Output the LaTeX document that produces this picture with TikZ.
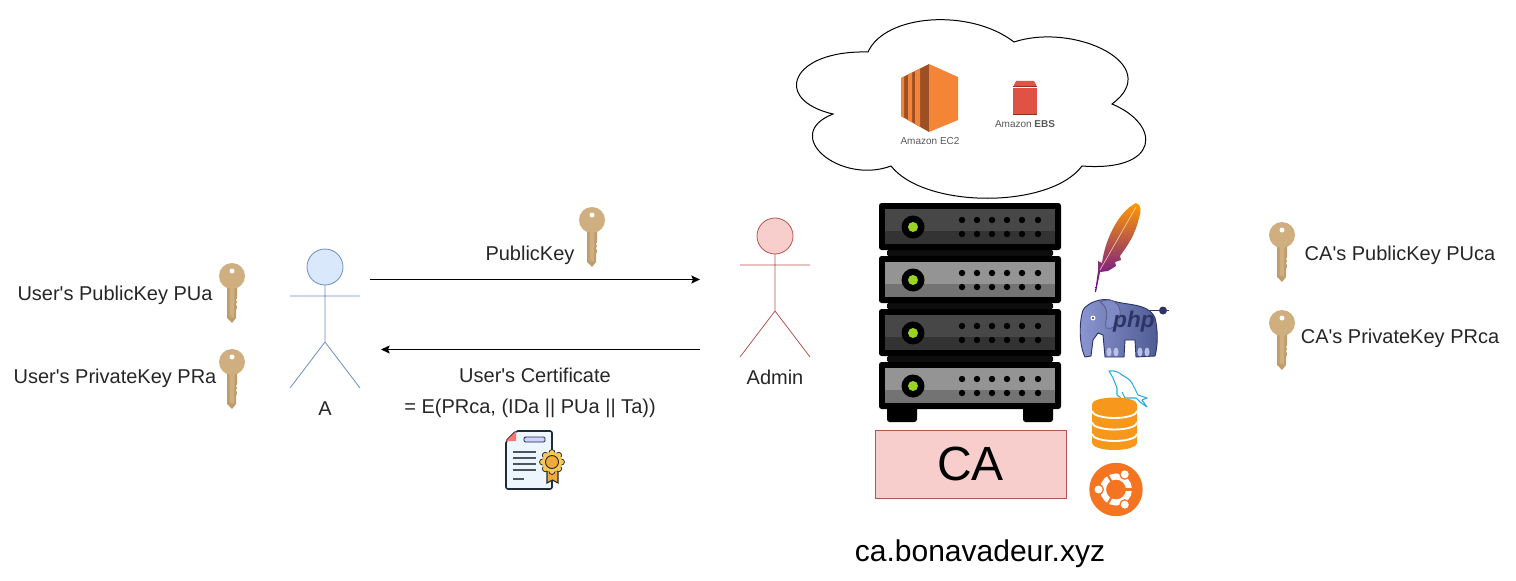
\documentclass[tikz,border=0pt]{standalone}
\usepackage{fontspec}
\setmainfont{Liberation Sans}
\usepackage{xcolor}
\usetikzlibrary{arrows.meta, positioning, calc}
\definecolor{keytan}{HTML}{CFAE80}
\definecolor{keydark}{HTML}{BE9C6C}
\definecolor{userblue}{HTML}{DAE8FC}
\definecolor{userline}{HTML}{6C8EBF}
\definecolor{adminred}{HTML}{F8CECC}
\definecolor{adminline}{HTML}{B85450}
\definecolor{ecorange}{HTML}{F58536}
\definecolor{ecdark}{HTML}{9D5025}
\definecolor{ebsred}{HTML}{E05243}
\definecolor{ebsdark}{HTML}{8C3123}
\definecolor{dbcolor}{HTML}{F7981D}
\definecolor{ubuntucolor}{HTML}{F47421}
\definecolor{phplight}{HTML}{8C97D2}
\definecolor{phpblue}{HTML}{7F8BC6}
\definecolor{phpmid}{HTML}{4F5B93}
\definecolor{phpdark}{HTML}{2E3566}
\definecolor{dolphin}{HTML}{29ABE2}
\definecolor{certline}{HTML}{1D2B3A}
\definecolor{certpaper}{HTML}{EEF6FD}
\definecolor{sealgold}{HTML}{F9C850}
\definecolor{sealmid}{HTML}{F2A93B}
\definecolor{ledgreen}{HTML}{9BD41E}
\tikzset{
    caption/.style={
        font=\fontsize{15}{17}\selectfont,
        text=black!85,
        text height=11pt,
        text depth=3pt,
        inner sep=0pt,
        yshift=-1.4pt
    },
    awslabel/.style={
        font=\fontsize{7.5}{8}\selectfont,
        text=black!65,
        inner sep=0pt
    },
    wire/.style={
        draw=black,
        line width=0.8pt,
        -{Stealth[length=6.5pt,width=6pt,inset=1.2pt]}
    },
    keyicon/.pic={
        \fill[keydark] (-5,8) -- (5,8) -- (5,22) -- (4,24) -- (5,26) -- (4,28) -- (5,31) -- (4,35) -- (4,42) -- (0,47) -- (-5,42) -- cycle;
        \fill[keytan] (-2.5,10) -- (2.5,10) -- (2,42) -- (-2.5,40) -- cycle;
        \fill[keytan] (0,0) circle (13);
        \fill[white] (0,-5) circle (2.5);
    },
    actorfig/.pic={
        \draw[pic actions] (0,-18) circle (18);
        \draw[pic actions, fill=none] (0,0) -- (0,57) (-35,11) -- (35,11) (-35,103) -- (0,57) -- (35,103);
    }
}

\begin{document}
\begin{tikzpicture}[x=0.75pt, y=-0.75pt]
\useasboundingbox (0,0) rectangle (1516,581);

% cloud
\draw[black, line width=0.75pt, fill=white] (868,52) .. controls (885,14) and (970,8) .. (1014,42)
    .. controls (1075,22) and (1165,65) .. (1112,104)
    .. controls (1162,125) and (1160,172) .. (1082,166)
    .. controls (1050,209) and (925,209) .. (891,166)
    .. controls (840,185) and (780,135) .. (833,114)
    .. controls (772,100) and (790,50) .. (868,52) -- cycle;

% ec2
\fill[ecdark] (901,78) -- (929,64) -- (929,132) -- (901,116) -- cycle;
\fill[ecorange] (901,78) -- (904,76.5) -- (904,118) -- (901,116) -- cycle;
\fill[ecorange] (908,74.5) -- (912,72.5) -- (912,122.5) -- (908,120) -- cycle;
\fill[ecorange] (915,71) -- (920,68.5) -- (920,127) -- (915,124) -- cycle;
\fill[ecorange] (929,64) -- (958,77) -- (958,120) -- (929,132) -- cycle;
\node[awslabel] (ectwo) at (930,141) {Amazon EC2};

% ebs
\fill[ebsred] (1013,87) -- (1016,81) -- (1034,81) -- (1037,87) -- cycle;
\fill[ebsdark] (1013,86) rectangle (1037,87);
\fill[ebsred] (1013,88) rectangle (1037,115);
\fill[ebsdark] (1013,114) rectangle (1037,115);
\node[awslabel] (ebs) at (1025,124) {Amazon \textbf{EBS}};

% server rack
\fill[black!95, rounded corners=1pt] (887,250) rectangle (1053,256) (887,303) rectangle (1053,309) (887,356) rectangle (1053,362);
\fill[black, rounded corners=2pt] (887,405) rectangle (917,422) (1023,405) rectangle (1053,422);
\foreach \ty/\colA/\colB in {203/black!72/black!80, 256/black!42/black!55, 309/black!72/black!80, 362/black!42/black!55}{
    \fill[black, rounded corners=2pt] (879,\ty) rectangle (1061,\ty+47);
    \fill[\colB] (885,\ty+6) rectangle (1055,\ty+41);
    \fill[\colA] (885,\ty+6) rectangle (1055,\ty+28);
    \fill[black] (913,\ty+24) circle (11.5);
    \fill[ledgreen] (913,\ty+24) circle (5);
    \foreach \dx in {962,977,992,1007,1022,1038}{
        \fill[black] (\dx,\ty+17) circle (3.2);
        \fill[black] (\dx,\ty+31) circle (3.2);
    }
}

\node[draw=adminline, fill=adminred, minimum width=191*0.75pt, minimum height=68*0.75pt, inner sep=0pt, font=\fontsize{36}{40}\selectfont] (ca) at (970.5,464) {CA};
\node[font=\fontsize{22.5}{26}\selectfont, inner sep=0pt] (domain) at (980,554) {ca.bonavadeur.xyz};

% apache
\shade[top color=orange!80!yellow, middle color=red!75!black, bottom color=violet!70!blue]
    (1136,203) .. controls (1142,205) and (1141,212) .. (1139,218)
    .. controls (1135,235) and (1128,245) .. (1120,256) -- (1121,260) -- (1115,262) -- (1116,266) -- (1108,271) -- (1100,272)
    -- (1096,292) -- (1095,292) -- (1098,271) -- (1098,261) -- (1102,263)
    .. controls (1105,240) and (1118,212) .. (1136,203) -- cycle;
\draw[white!80!orange, line width=0.35pt] (1136,207) -- (1100,270);

% php
\fill[phpdark] (1163,310.5) circle (4);
\draw[phpdark, line width=1.2pt] (1150,310.5) -- (1169,310.5);
\shade[draw=phpdark, line width=0.7pt, left color=phplight, right color=phpmid]
    (1085,357) .. controls (1079,345) and (1079,322) .. (1083,310)
    .. controls (1088,302) and (1102,298) .. (1110,300)
    .. controls (1125,306) and (1148,302) .. (1155,318)
    .. controls (1158,330) and (1158,345) .. (1155,356)
    -- (1136,357) -- (1135,340) -- (1125,340) -- (1124,357) -- (1105,357) -- (1103,335) -- (1098,333) -- (1093,340) -- (1091,356) -- cycle;
\draw[phpdark!80, line width=0.6pt, fill=phpblue] (1100,302) .. controls (1112,296) and (1122,304) .. (1120,316)
    .. controls (1118,326) and (1112,330) .. (1106,328) .. controls (1104,320) and (1112,310) .. (1100,302);
\fill[white] (1093,318) circle (2.5);
\fill[phpdark] (1093,318) circle (1.2);
\foreach \tx in {1109,1116,1140,1147}{
    \fill[phplight!60!white] (\tx,352) ellipse (2.5 and 4.5);
}
\node[font=\bfseries\itshape\fontsize{17}{17}\selectfont, text=phpdark, inner sep=0pt] (php) at (1134,322) {php};

% mysql
\draw[dolphin, line width=0.8pt, line join=round] (1121,398) -- (1117,395) -- (1117,388) -- (1113,378) -- (1109,371)
    .. controls (1115,370) and (1120,373) .. (1122,375) .. controls (1128,378) and (1132,382) .. (1133,385)
    -- (1138,395) -- (1147,398) -- (1142,400) -- (1147,407) -- (1140,402) -- (1136,398) -- (1125,398) -- (1122,392);
\fill[dbcolor] (1092,404) -- (1092,443) arc (180:0:22.5 and 7) -- (1137,404) arc (0:-180:22.5 and 6.5) -- cycle;
\foreach \ty in {411,422.5,434}{
    \draw[white, line width=1.4pt] (1092,\ty) arc (180:0:22.5 and 7);
}

% ubuntu
\fill[ubuntucolor] (1116,489.5) circle (26.7);
\draw[white, line width=4.5pt] (1116,489.5) circle (13);
\foreach \ang in {0,120,240}{
    \draw[ubuntucolor, line width=1.6pt] (1116,489.5) -- ++(\ang:19);
}
\foreach \ang in {60,180,300}{
    \fill[ubuntucolor] (1116,489.5) ++(\ang:17.5) circle (5.5);
    \fill[white] (1116,489.5) ++(\ang:17.5) circle (4);
}

% actors
\pic[draw=userline, fill=userblue, line width=0.6pt] (usera) at (325,285) {actorfig};
\pic[draw=adminline, fill=adminred, line width=0.6pt] (admin) at (775,254) {actorfig};
\node[caption] (lbla) at (325,408) {A};
\node[caption] (lbladmin) at (775,377) {Admin};

% keys
\pic (keypua) at (232,276) {keyicon};
\pic (keypra) at (232,362) {keyicon};
\pic (keymsg) at (592,220) {keyicon};
\pic (keypuca) at (1282,235) {keyicon};
\pic (keyprca) at (1282,323) {keyicon};

\node[caption] (pua) at (115,293) {User\textquotesingle s PublicKey PUa};
\node[caption] (pra) at (115,376) {User\textquotesingle s PrivateKey PRa};
\node[caption] (msg) at (530,253) {PublicKey};
\node[caption] (cert) at (535,375) {User\textquotesingle s Certificate};
\node[caption] (certeq) at (530,406) {= E(PRca, (IDa || PUa || Ta))};
\node[caption] (puca) at (1400,253) {CA\textquotesingle s PublicKey PUca};
\node[caption] (prca) at (1400,336) {CA\textquotesingle s PrivateKey PRca};

\coordinate (reqin) at (370,279.5);
\coordinate (reqout) at (700,279.5);
\coordinate (certin) at (700,349.5);
\coordinate (certout) at (381,349.5);
\draw[wire] (reqin) -- (reqout);
\draw[wire] (certin) -- (certout);

% certificate
\draw[certline, line width=1.2pt, fill=certpaper, rounded corners=1.5pt] (516,431) -- (552,431) -- (552,489) -- (506,489) -- (506,441) -- cycle;
\fill[red!55!white] (516,431) -- (516,441) -- (506,441) -- cycle;
\draw[certline, line width=0.7pt, fill=blue!18, rounded corners=1pt] (524,437) rectangle (545,442);
\foreach \ly in {452,458,464,470}{
    \draw[certline!80, line width=1pt] (513,\ly) -- (536,\ly);
}
\draw[certline!80, line width=1pt] (513,479) -- (524,479);
\draw[certline, line width=0.8pt, fill=sealmid] (547,470) -- (547,483) -- (552.5,480) -- (558,483) -- (558,470) -- cycle;
\foreach \ang in {0,45,...,315}{
    \fill[certline] (552,462) ++(\ang:9.5) circle (3.4);
}
\foreach \ang in {0,45,...,315}{
    \fill[sealgold] (552,462) ++(\ang:9.5) circle (2.4);
}
\fill[sealgold] (552,462) circle (10);
\draw[certline, line width=0.7pt, fill=sealmid] (552,462) circle (6.5);
\end{tikzpicture}
\end{document}
